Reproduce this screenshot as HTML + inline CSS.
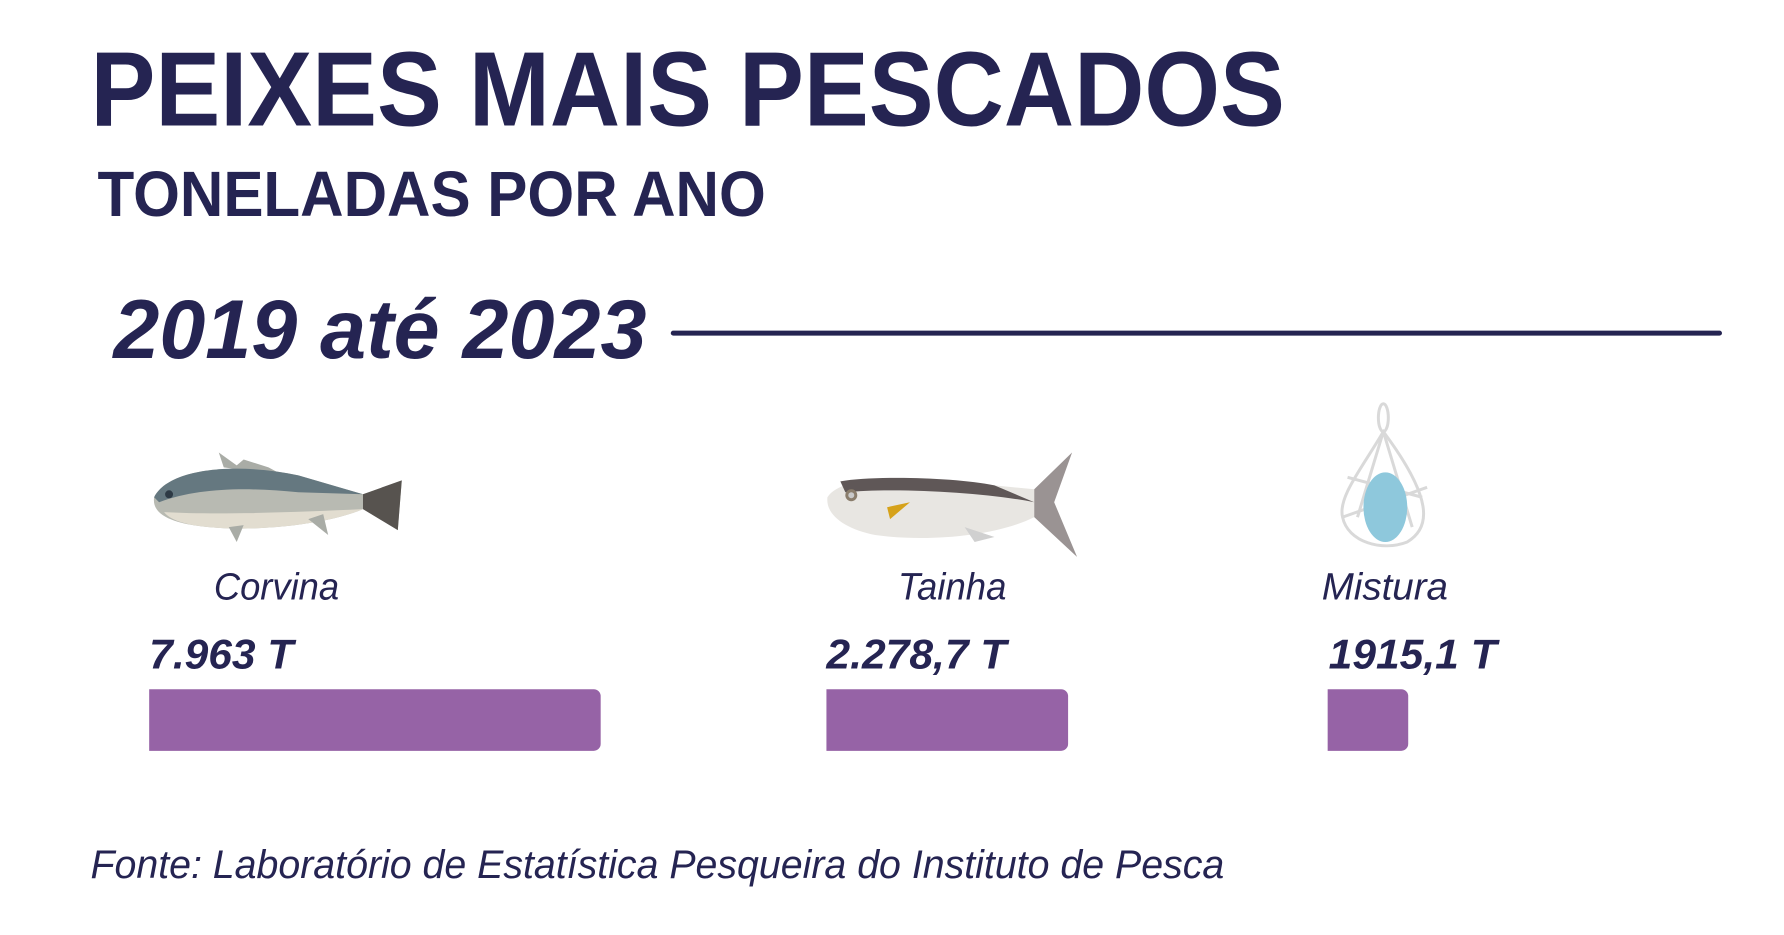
<!DOCTYPE html>
<html><head><meta charset="utf-8"><style>
html,body{margin:0;padding:0;background:#fff;width:1784px;height:935px;overflow:hidden}
svg{display:block}
text{font-family:"Liberation Sans",sans-serif;fill:#252452}
</style></head><body>
<svg width="1784" height="935" viewBox="0 0 1784 935">
<g transform="scale(0.9945)">
<text x="91" y="126" font-size="106" font-weight="bold" textLength="1201" lengthAdjust="spacingAndGlyphs">PEIXES MAIS PESCADOS</text>
<text x="98" y="217" font-size="64" font-weight="bold" textLength="672" lengthAdjust="spacingAndGlyphs">TONELADAS POR ANO</text>
<text x="114" y="360" font-size="84" font-weight="bold" font-style="italic" textLength="536" lengthAdjust="spacingAndGlyphs">2019 até 2023</text>
<line x1="677" y1="335" x2="1729" y2="335" stroke="#252452" stroke-width="5" stroke-linecap="round"/>

<g>
<polygon points="225,470 220,455 238,468 245,462 270,470 285,478" fill="#a9aca6"/>
<path d="M155,500 C170,470 240,465 300,478 L365,497 L404,483 L400,533 L365,512 C330,527 260,535 210,530 C175,527 152,518 155,500Z" fill="#b8bab2"/>
<path d="M155,500 C170,470 240,465 300,478 L365,497 L300,495 C250,490 200,490 160,505Z" fill="#657880"/>
<path d="M165,515 C220,518 300,515 365,512 C330,527 260,535 210,530 C185,528 170,522 165,515Z" fill="#e2ddd0"/>
<polygon points="365,497 404,483 400,533 365,512" fill="#57534f"/>
<polygon points="230,530 238,545 245,528" fill="#a9aca6"/>
<polygon points="310,522 330,538 325,517" fill="#a9aca6"/>
<circle cx="170" cy="497" r="4" fill="#2d3a45"/>
</g>

<g>
<path d="M832,500 C845,480 900,478 960,484 L1040,492 L1078,455 L1050,505 L1083,560 L1040,520 C1000,540 930,545 880,538 C850,532 830,518 832,500Z" fill="#e8e6e2"/>
<path d="M845,484 C880,478 960,480 1000,488 L1040,505 C990,495 900,490 850,495Z" fill="#5f5757"/>
<polygon points="1040,492 1078,455 1060,505 1083,560 1040,520" fill="#9a9393"/>
<polygon points="892,510 915,505 895,522" fill="#d6a21a"/>
<circle cx="856" cy="498" r="6" fill="#8a7d6c"/>
<circle cx="856" cy="498" r="3" fill="#c9c9c9"/>
<polygon points="970,530 1000,540 980,545" fill="#d0d0d0"/>
</g>

<g fill="none" stroke="#d9d9d9" stroke-width="3">
<ellipse cx="1391" cy="420" rx="5" ry="14"/>
<path d="M1391,434 C1370,470 1345,500 1350,520 C1355,545 1390,555 1415,545 C1440,530 1440,500 1391,434Z"/>
<path d="M1391,434 L1365,520 M1391,434 L1420,530 M1355,480 L1430,500 M1350,520 L1435,490"/>
</g>
<ellipse cx="1393" cy="510" rx="22" ry="35" fill="#8ec8dc"/>

<text x="215" y="603" font-size="38" font-style="italic" textLength="126" lengthAdjust="spacingAndGlyphs">Corvina</text>
<text x="903" y="603" font-size="38" font-style="italic" textLength="109" lengthAdjust="spacingAndGlyphs">Tainha</text>
<text x="1329" y="603" font-size="38" font-style="italic" textLength="127" lengthAdjust="spacingAndGlyphs">Mistura</text>

<text x="150" y="672" font-size="42" font-weight="bold" font-style="italic" textLength="145" lengthAdjust="spacingAndGlyphs">7.963 T</text>
<text x="831" y="672" font-size="42" font-weight="bold" font-style="italic" textLength="181" lengthAdjust="spacingAndGlyphs">2.278,7 T</text>
<text x="1336" y="672" font-size="42" font-weight="bold" font-style="italic" textLength="169" lengthAdjust="spacingAndGlyphs">1915,1 T</text>

<path d="M150,693 H597 a7,7 0 0 1 7,7 V748 a7,7 0 0 1 -7,7 H150Z" fill="#9663a6"/>
<path d="M831,693 H1067 a7,7 0 0 1 7,7 V748 a7,7 0 0 1 -7,7 H831Z" fill="#9663a6"/>
<path d="M1335,693 H1409 a7,7 0 0 1 7,7 V748 a7,7 0 0 1 -7,7 H1335Z" fill="#9663a6"/>

<text x="91" y="883" font-size="40" font-style="italic" textLength="1140" lengthAdjust="spacingAndGlyphs">Fonte: Laboratório de Estatística Pesqueira do Instituto de Pesca</text>
</g>
</svg>
</body></html>
